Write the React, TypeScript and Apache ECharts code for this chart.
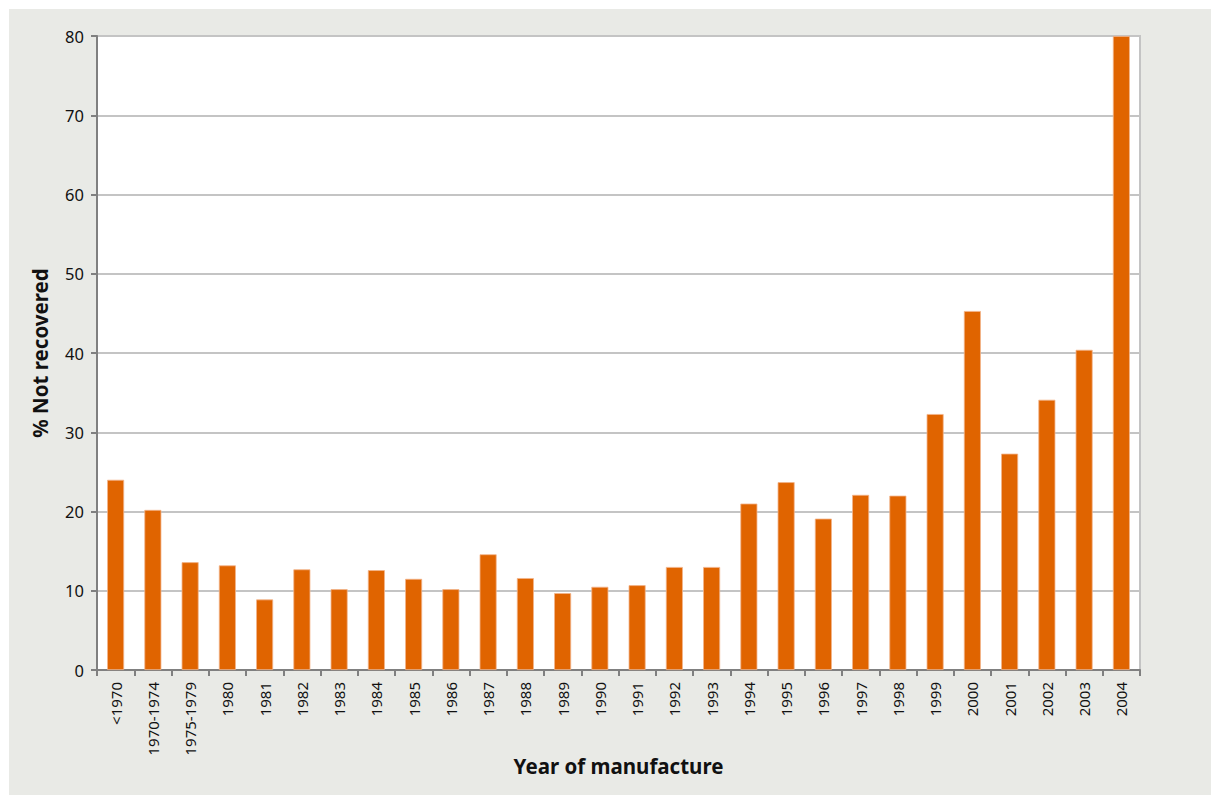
import React, { useEffect, useRef } from "react";
import * as echarts from "echarts";

const categories: string[] = [
  "<1970", "1970-1974", "1975-1979", "1980", "1981", "1982", "1983", "1984", "1985",
  "1986", "1987", "1988", "1989", "1990", "1991", "1992", "1993", "1994", "1995",
  "1996", "1997", "1998", "1999", "2000", "2001", "2002", "2003", "2004",
];

const notRecovered: number[] = [
  24.0, 20.2, 13.6, 13.2, 8.9, 12.7, 10.2, 12.6, 11.5,
  10.2, 14.6, 11.6, 9.7, 10.5, 10.7, 13.0, 13.0, 21.0, 23.7,
  19.1, 22.1, 22.0, 32.3, 45.3, 27.3, 34.1, 40.4, 80.0,
];

const yTicks = { min: 0, max: 80, interval: 10 };

const FONT = "'Noto Sans', 'Open Sans', sans-serif";

export default function App() {
  const ref = useRef<HTMLDivElement>(null);

  useEffect(() => {
    if (!ref.current) return;
    const chart = echarts.init(ref.current, undefined, { renderer: "svg" });
    chart.setOption({
      animation: false,
      backgroundColor: "#e9eae6",
      textStyle: { fontFamily: FONT },
      grid: {
        left: 88,
        right: 71,
        top: 27,
        bottom: 125,
        show: true,
        backgroundColor: "#ffffff",
        borderColor: "#c4c4c4",
        borderWidth: 2,
      },
      xAxis: {
        type: "category",
        data: categories,
        boundaryGap: true,
        name: "Year of manufacture",
        nameLocation: "middle",
        nameGap: 85,
        nameMoveOverlap: false,
        nameTextStyle: {
          fontFamily: FONT,
          fontSize: 20.5,
          fontWeight: "bold",
          color: "#111",
          verticalAlign: "top",
        },
        axisLine: { show: true, lineStyle: { color: "#808080", width: 2 } },
        axisTick: { show: true, interval: 0, length: 6, lineStyle: { color: "#808080", width: 2 } },
        axisLabel: {
          interval: 0,
          rotate: 90,
          margin: 12,
          fontFamily: FONT,
          fontSize: 15,
          color: "#111",
        },
      },
      yAxis: {
        type: "value",
        min: yTicks.min,
        max: yTicks.max,
        interval: yTicks.interval,
        name: "% Not recovered",
        nameLocation: "middle",
        nameGap: 47,
        nameRotate: 90,
        nameMoveOverlap: false,
        nameTextStyle: {
          fontFamily: FONT,
          fontSize: 20.5,
          fontWeight: "bold",
          color: "#111",
        },
        axisLine: { show: true, lineStyle: { color: "#808080", width: 2 } },
        axisTick: { show: true, length: 6, lineStyle: { color: "#808080", width: 2 } },
        axisLabel: { margin: 13, fontFamily: FONT, fontSize: 16.5, color: "#111" },
        splitLine: { show: true, lineStyle: { color: "#c4c4c4", width: 2 } },
      },
      series: [
        {
          type: "bar",
          data: notRecovered,
          barWidth: 17,
          itemStyle: {
            color: "#e06400",
            borderColor: "#f2b48a",
            borderWidth: 0.8,
          },
        },
      ],
    });
    return () => chart.dispose();
  }, []);

  return (
    <div
      ref={ref}
      style={{ position: "absolute", left: 9, top: 9, width: 1202, height: 786 }}
    />
  );
}
